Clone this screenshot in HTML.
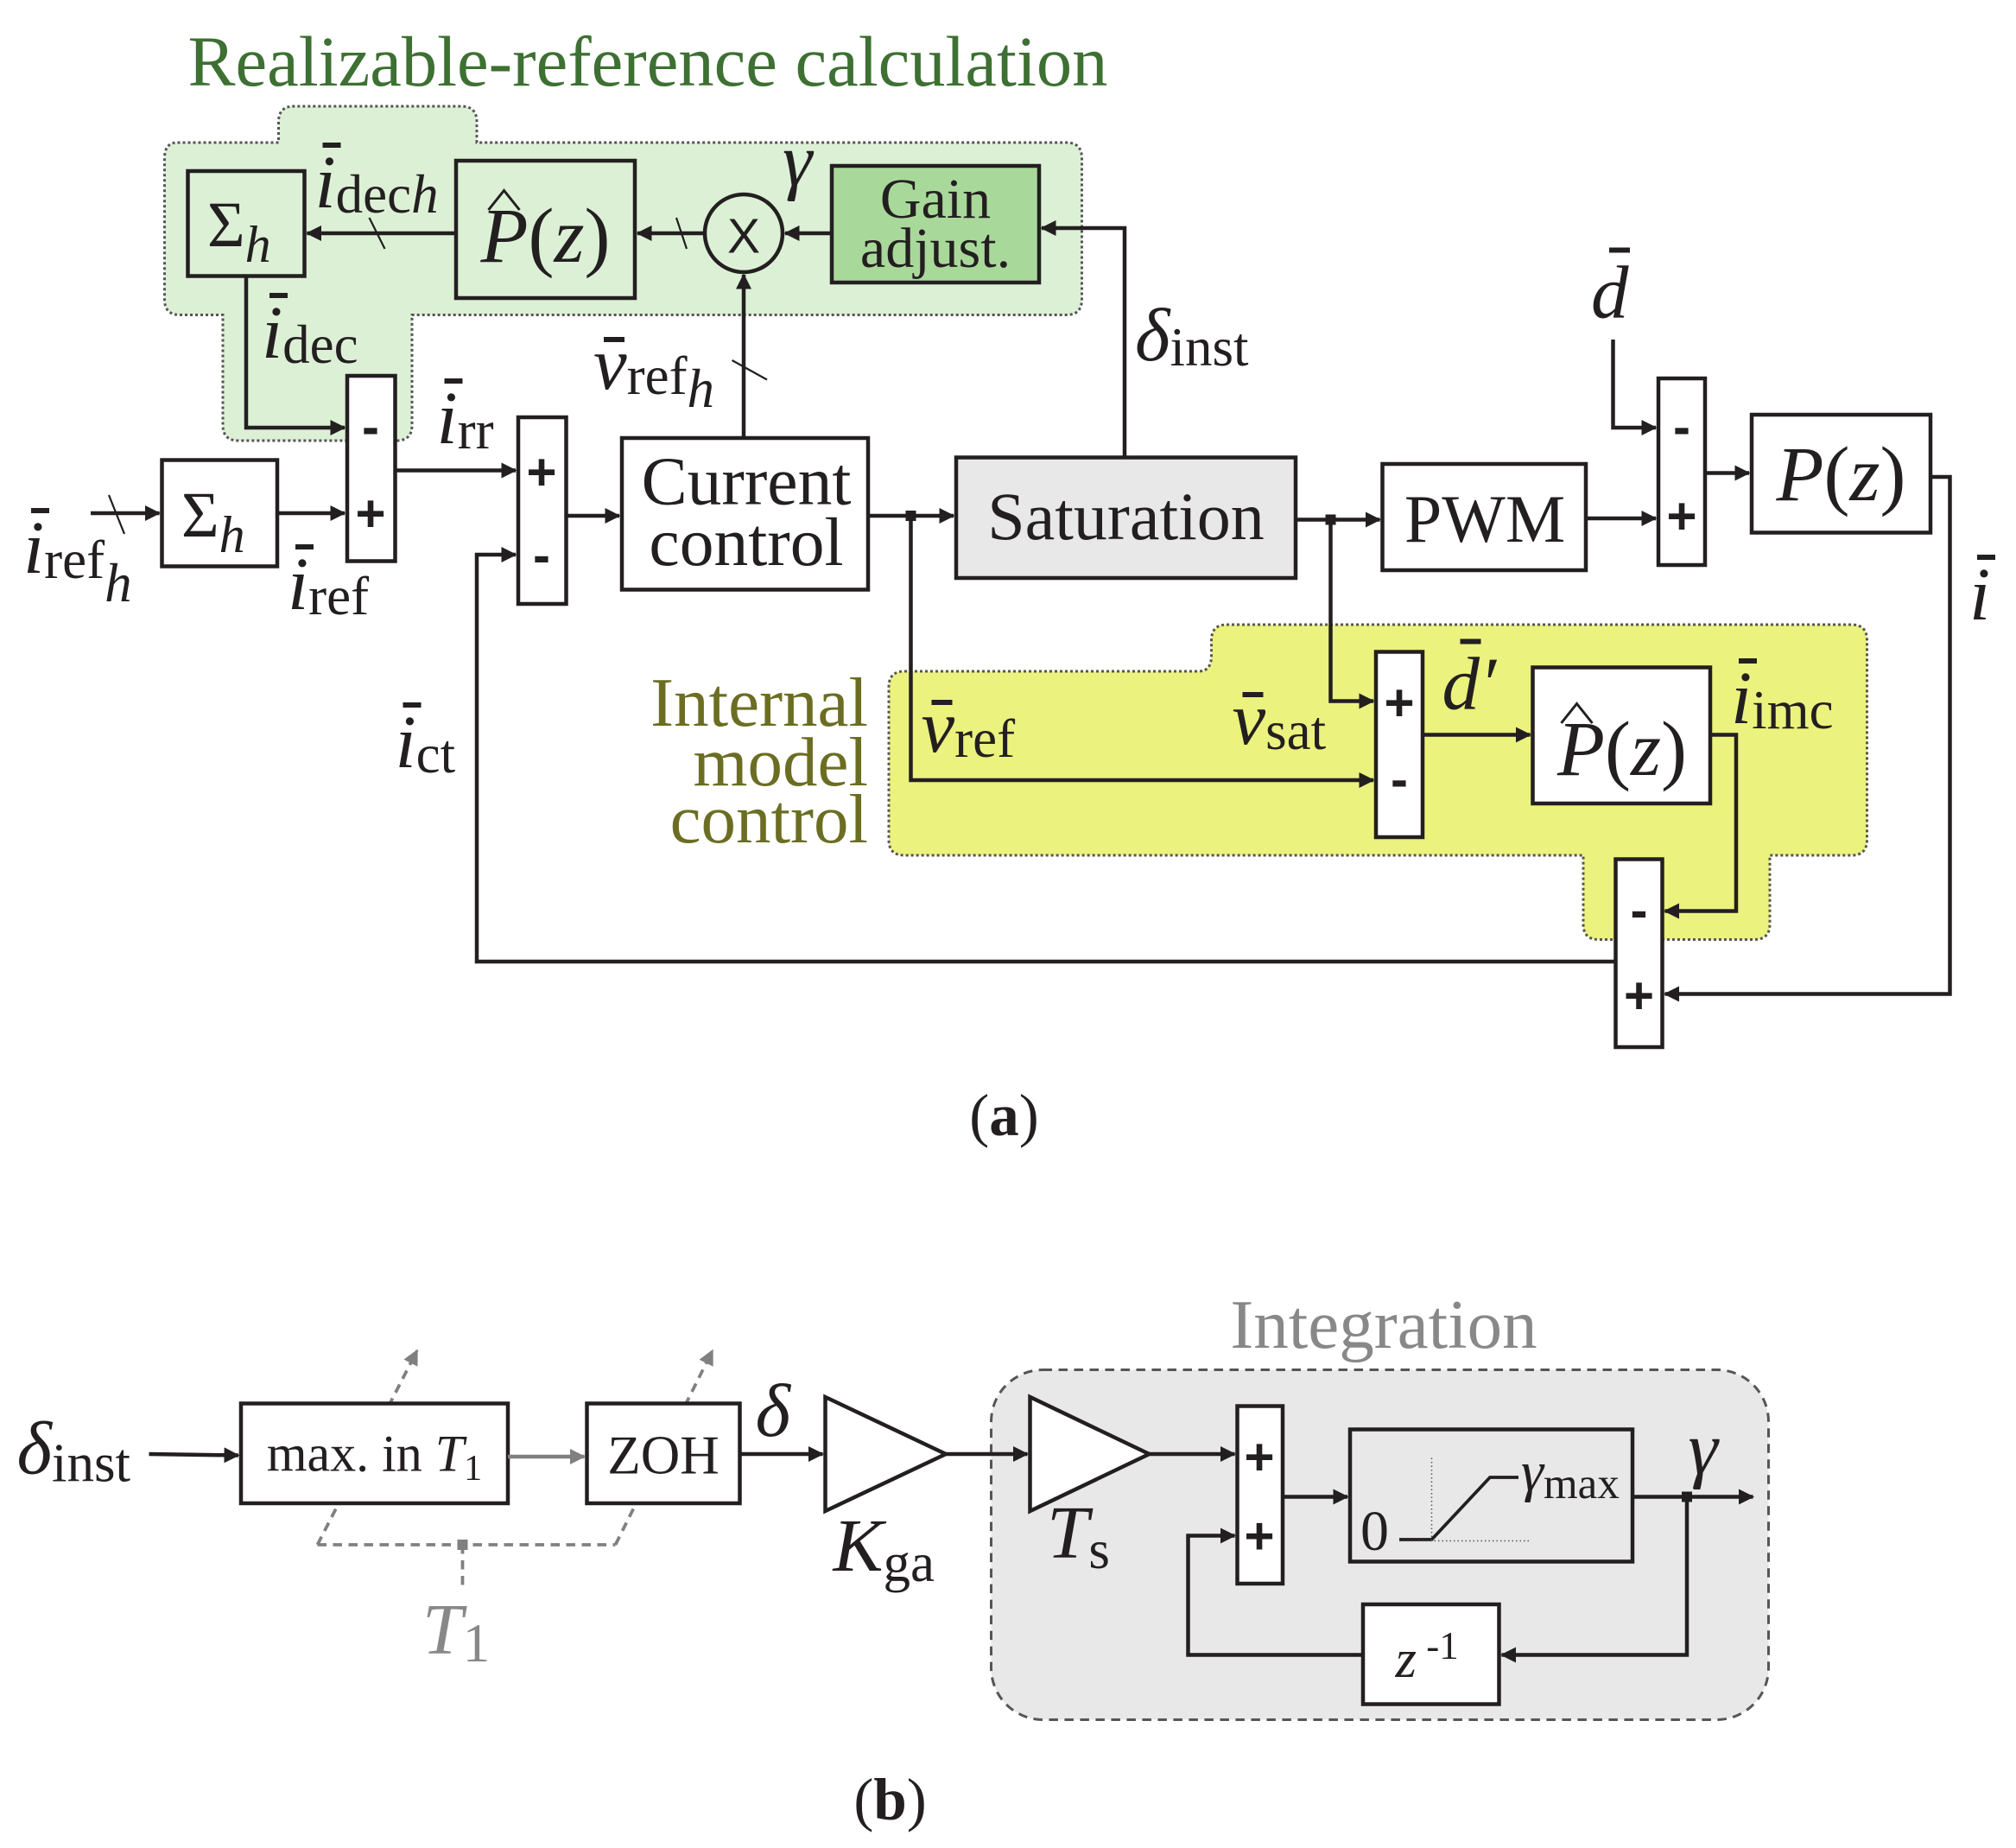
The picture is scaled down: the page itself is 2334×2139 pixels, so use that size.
<!DOCTYPE html>
<html><head><meta charset="utf-8"><style>
html,body{margin:0;padding:0;background:#fff}
svg{display:block}
text{font-family:"Liberation Serif",serif;fill:#231f20}
.it{font-style:italic}
.sg{font-family:"Liberation Sans",sans-serif;font-weight:bold;font-size:40px}
</style></head><body>
<svg width="2334" height="2139" viewBox="0 0 1556 1426" xmlns="http://www.w3.org/2000/svg">
<defs>
<marker id="ar" markerWidth="12" markerHeight="12" refX="11" refY="6" orient="auto" markerUnits="userSpaceOnUse" viewBox="0 0 12 12"><path d="M0,0 L12,6 L0,12 z" fill="#231f20"/></marker>
<marker id="arg" markerWidth="12" markerHeight="12" refX="11" refY="6" orient="auto" markerUnits="userSpaceOnUse" viewBox="0 0 12 12"><path d="M0,0 L12,6 L0,12 z" fill="#808080"/></marker>
</defs>

<text x="145" y="66" font-size="55" style="fill:#3d7032">Realizable-reference calculation</text>

<path d="M137,110 L215,110 L215,94 Q215,82 227,82 L356,82 Q368,82 368,94 L368,110 L823,110 Q835,110 835,122 L835,231 Q835,243 823,243 L318,243 L318,328 Q318,340 306,340 L184,340 Q172,340 172,328 L172,243 L139,243 Q127,243 127,231 L127,122 Q127,110 137,110 Z" fill="#dcf0d6" stroke="#555" stroke-width="2" stroke-dasharray="2,2"/>
<path d="M698,518 L925,518 Q935,518 935,506 L935,494 Q935,482 947,482 L1429,482 Q1441,482 1441,494 L1441,648 Q1441,660 1429,660 L1366,660 L1366,713 Q1366,725 1354,725 L1234,725 Q1222,725 1222,713 L1222,660 L698,660 Q686,660 686,648 L686,530 Q686,518 698,518 Z" fill="#ebf27e" stroke="#555" stroke-width="2" stroke-dasharray="2,2"/>

<g stroke="#231f20" stroke-width="3" fill="none">
<rect x="145" y="132" width="90" height="81"/>
<rect x="352" y="124" width="138" height="106"/>
<circle cx="574" cy="180" r="30"/>
<rect x="642" y="128" width="160" height="90" fill="#a9d99a"/>
<rect x="268" y="290" width="37" height="143" fill="#fff"/>
<rect x="125" y="355" width="89" height="82" fill="#fff"/>
<rect x="400" y="322" width="37" height="144" fill="#fff"/>
<rect x="480" y="338" width="190" height="117" fill="#fff"/>
<rect x="738" y="353" width="262" height="93" fill="#e8e8e8"/>
<rect x="1067" y="358" width="157" height="82" fill="#fff"/>
<rect x="1280" y="292" width="36" height="144" fill="#fff"/>
<rect x="1352" y="320" width="138" height="91" fill="#fff"/>
<rect x="1062" y="503" width="36" height="143" fill="#fff"/>
<rect x="1183" y="515" width="137" height="105" fill="#fff"/>
<rect x="1247" y="663" width="36" height="145" fill="#fff"/>

<line x1="642" y1="180" x2="606" y2="180" marker-end="url(#ar)"/>
<line x1="544" y1="180" x2="492" y2="180" marker-end="url(#ar)"/>
<line x1="352" y1="180" x2="237" y2="180" marker-end="url(#ar)"/>
<polyline points="868,353 868,176 804,176" marker-end="url(#ar)"/>
<polyline points="190,213 190,330 266,330" marker-end="url(#ar)"/>
<line x1="70" y1="396" x2="123" y2="396" marker-end="url(#ar)"/>
<line x1="214" y1="396" x2="266" y2="396" marker-end="url(#ar)"/>
<line x1="305" y1="363" x2="398" y2="363" marker-end="url(#ar)"/>
<polyline points="1247,742 368,742 368,428 398,428" marker-end="url(#ar)"/>
<line x1="437" y1="398" x2="478" y2="398" marker-end="url(#ar)"/>
<line x1="574" y1="338" x2="574" y2="212" marker-end="url(#ar)"/>
<line x1="670" y1="398" x2="736" y2="398" marker-end="url(#ar)"/>
<line x1="1000" y1="401" x2="1065" y2="401" marker-end="url(#ar)"/>
<line x1="1224" y1="400" x2="1278" y2="400" marker-end="url(#ar)"/>
<polyline points="1245,262 1245,330 1278,330" marker-end="url(#ar)"/>
<line x1="1316" y1="365" x2="1350" y2="365" marker-end="url(#ar)"/>
<polyline points="1490,368 1505,368 1505,767 1285,767" marker-end="url(#ar)"/>
<polyline points="703,398 703,602 1060,602" marker-end="url(#ar)"/>
<polyline points="1027,401 1027,541 1060,541" marker-end="url(#ar)"/>
<line x1="1098" y1="567" x2="1181" y2="567" marker-end="url(#ar)"/>
<polyline points="1320,567 1340,567 1340,703 1285,703" marker-end="url(#ar)"/>
<!-- hats -->
<polyline points="377,162 389,147 401,162" stroke-width="2"/>
<polyline points="1205,558 1217,543 1229,558" stroke-width="2"/>
</g>
<g stroke="#231f20" stroke-width="1.5">
<line x1="522" y1="168" x2="530" y2="192"/>
<line x1="285" y1="168" x2="297" y2="192"/>
<line x1="84" y1="382" x2="96" y2="412"/>
<line x1="565" y1="278" x2="592" y2="293"/>
</g>
<rect x="699" y="394" width="8" height="8" fill="#231f20"/>
<rect x="1023" y="397" width="8" height="8" fill="#231f20"/>

<text class="sg" x="286" y="343" text-anchor="middle">-</text>
<text class="sg" x="286" y="410" text-anchor="middle">+</text>
<text class="sg" x="418" y="378" text-anchor="middle">+</text>
<text class="sg" x="418" y="442" text-anchor="middle">-</text>
<text class="sg" x="1298" y="343" text-anchor="middle">-</text>
<text class="sg" x="1298" y="412" text-anchor="middle">+</text>
<text class="sg" x="1080" y="556" text-anchor="middle">+</text>
<text class="sg" x="1080" y="615" text-anchor="middle">-</text>
<text class="sg" x="1265" y="716" text-anchor="middle">-</text>
<text class="sg" x="1265" y="782" text-anchor="middle">+</text>

<text x="160" y="190" font-size="50">Σ<tspan class="it" font-size="40" dy="12">h</tspan></text>
<text x="140" y="414" font-size="50">Σ<tspan class="it" font-size="40" dy="12">h</tspan></text>
<text x="421" y="202" font-size="60" text-anchor="middle"><tspan class="it">P</tspan>(<tspan class="it">z</tspan>)</text>
<text x="1252" y="598" font-size="60" text-anchor="middle"><tspan class="it">P</tspan>(<tspan class="it">z</tspan>)</text>
<text x="1421" y="386" font-size="60" text-anchor="middle"><tspan class="it">P</tspan>(<tspan class="it">z</tspan>)</text>
<text x="574" y="195" font-size="38" text-anchor="middle" style="font-family:'Liberation Sans',sans-serif">X</text>
<text x="722" y="168" font-size="44" text-anchor="middle">Gain</text>
<text x="722" y="206" font-size="44" text-anchor="middle">adjust.</text>
<text x="576" y="389" font-size="53" text-anchor="middle">Current</text>
<text x="576" y="436" font-size="53" text-anchor="middle">control</text>
<text x="869" y="416" font-size="52" text-anchor="middle">Saturation</text>
<text x="1146" y="418" font-size="52" text-anchor="middle">PWM</text>

<g font-size="58">
<text x="243" y="160" class="it">i<tspan font-style="normal" font-size="42" dy="4">dec</tspan><tspan font-size="42">h</tspan></text>
<line x1="249" y1="112" x2="263" y2="112" stroke="#231f20" stroke-width="4"/>
<text x="604" y="143" class="it">γ</text>
<text x="202" y="276" class="it">i<tspan font-style="normal" font-size="42" dy="4">dec</tspan></text>
<line x1="208" y1="228" x2="222" y2="228" stroke="#231f20" stroke-width="4"/>
<text x="337" y="342" class="it">i<tspan font-style="normal" font-size="42" dy="4">rr</tspan></text>
<line x1="343" y1="294" x2="357" y2="294" stroke="#231f20" stroke-width="4"/>
<text x="18" y="442" class="it">i<tspan font-style="normal" font-size="42" dy="4">ref</tspan><tspan font-size="42" dy="18">h</tspan></text>
<line x1="24" y1="394" x2="38" y2="394" stroke="#231f20" stroke-width="4"/>
<text x="222" y="470" class="it">i<tspan font-style="normal" font-size="42" dy="4">ref</tspan></text>
<line x1="228" y1="422" x2="242" y2="422" stroke="#231f20" stroke-width="4"/>
<text x="305" y="592" class="it">i<tspan font-style="normal" font-size="42" dy="4">ct</tspan></text>
<line x1="311" y1="544" x2="325" y2="544" stroke="#231f20" stroke-width="4"/>
<text x="458" y="300" class="it">v<tspan font-style="normal" font-size="42" dy="4">ref</tspan><tspan font-size="42" dy="10">h</tspan></text>
<line x1="466" y1="262" x2="482" y2="262" stroke="#231f20" stroke-width="4"/>
<text x="876" y="278" class="it">δ<tspan font-style="normal" font-size="42" dy="4">inst</tspan></text>
<text x="1228" y="245" class="it">d</text>
<line x1="1242" y1="193" x2="1258" y2="193" stroke="#231f20" stroke-width="4"/>
<text x="1520" y="478" class="it">i</text>
<line x1="1526" y1="430" x2="1540" y2="430" stroke="#231f20" stroke-width="4"/>
<text x="711" y="580" class="it">v<tspan font-style="normal" font-size="42" dy="4">ref</tspan></text>
<line x1="719" y1="542" x2="735" y2="542" stroke="#231f20" stroke-width="4"/>
<text x="951" y="574" class="it">v<tspan font-style="normal" font-size="42" dy="4">sat</tspan></text>
<line x1="959" y1="536" x2="975" y2="536" stroke="#231f20" stroke-width="4"/>
<text x="1113" y="547" class="it">d′</text>
<line x1="1127" y1="495" x2="1143" y2="495" stroke="#231f20" stroke-width="4"/>
<text x="1336" y="558" class="it">i<tspan font-style="normal" font-size="42" dy="4">imc</tspan></text>
<line x1="1342" y1="510" x2="1356" y2="510" stroke="#231f20" stroke-width="4"/>
</g>
<g font-size="54" text-anchor="end">
<text x="670" y="560" style="fill:#6b6e22">Internal</text>
<text x="670" y="606" style="fill:#6b6e22">model</text>
<text x="670" y="650" style="fill:#6b6e22">control</text>
</g>
<text x="775" y="876" font-size="46" text-anchor="middle">(<tspan font-weight="bold">a</tspan>)</text>

<!-- part b -->
<rect x="765" y="1057" width="600" height="270" rx="40" fill="#e8e8e8" stroke="#555" stroke-width="2" stroke-dasharray="7,5"/>
<text x="1068" y="1040" font-size="54" text-anchor="middle" style="fill:#888">Integration</text>
<g stroke="#808080" stroke-width="2.5" fill="none" stroke-dasharray="7,5">
<line x1="245" y1="1192" x2="322" y2="1042" marker-end="url(#arg)"/>
<line x1="475" y1="1192" x2="550" y2="1042" marker-end="url(#arg)"/>
<line x1="245" y1="1192" x2="475" y2="1192"/>
<line x1="357" y1="1192" x2="357" y2="1228"/>
</g>
<rect x="353" y="1188" width="8" height="8" fill="#808080"/>
<text x="326" y="1276" font-size="56" class="it" style="fill:#888">T<tspan font-style="normal" font-size="42" dy="6">1</tspan></text>
<g stroke="#231f20" stroke-width="3" fill="none">
<rect x="186" y="1083" width="206" height="77" fill="#fff"/>
<rect x="453" y="1083" width="118" height="77" fill="#fff"/>
<line x1="115" y1="1122" x2="184" y2="1123" marker-end="url(#ar)"/>
<line x1="571" y1="1122" x2="635" y2="1122" marker-end="url(#ar)"/>
<polygon points="637,1078 637,1166 730,1122" fill="#fff"/>
<line x1="730" y1="1122" x2="793" y2="1122" marker-end="url(#ar)"/>
<polygon points="795,1078 795,1166 887,1122" fill="#fff"/>
<line x1="887" y1="1122" x2="953" y2="1122" marker-end="url(#ar)"/>
<rect x="955" y="1085" width="35" height="137" fill="#fff"/>
<line x1="990" y1="1155" x2="1040" y2="1155" marker-end="url(#ar)"/>
<rect x="1042" y="1103" width="218" height="102"/>
<line x1="1260" y1="1155" x2="1353" y2="1155" marker-end="url(#ar)"/>
<polyline points="1302,1155 1302,1277 1159,1277" marker-end="url(#ar)"/>
<rect x="1052" y="1238" width="105" height="77" fill="#fff"/>
<polyline points="1052,1277 917,1277 917,1185 953,1185" marker-end="url(#ar)"/>
<polyline points="1080,1188 1105,1188 1150,1140 1172,1140" stroke-width="2.5"/>
</g>
<line x1="392" y1="1124" x2="451" y2="1124" stroke="#808080" stroke-width="3" marker-end="url(#arg)"/>
<g stroke="#555" stroke-width="1" stroke-dasharray="1,2">
<line x1="1105" y1="1125" x2="1105" y2="1190"/>
<line x1="1080" y1="1189" x2="1180" y2="1189"/>
</g>
<rect x="1298" y="1151" width="8" height="8" fill="#231f20"/>
<text class="sg" x="972" y="1138" text-anchor="middle">+</text>
<text class="sg" x="972" y="1199" text-anchor="middle">+</text>
<text x="289" y="1135" font-size="40" text-anchor="middle">max. in <tspan class="it">T</tspan><tspan font-size="28" dy="7">1</tspan></text>
<text x="512" y="1137" font-size="42" text-anchor="middle">ZOH</text>
<text x="1050" y="1196" font-size="44">0</text>
<text x="1174" y="1150" font-size="44" class="it">γ<tspan font-style="normal" font-size="34" dy="6">max</tspan></text>
<text x="1077" y="1294" font-size="42"><tspan class="it">z</tspan><tspan font-size="30" dy="-14"> -1</tspan></text>
<g font-size="58">
<text x="13" y="1137" class="it">δ<tspan font-style="normal" font-size="42" dy="6">inst</tspan></text>
<text x="583" y="1108" class="it">δ</text>
<text x="643" y="1212" class="it">K<tspan font-style="normal" font-size="42" dy="8">ga</tspan></text>
<text x="808" y="1202" class="it">T<tspan font-style="normal" font-size="42" dy="8">s</tspan></text>
<text x="1303" y="1137" class="it">γ</text>
</g>
<text x="687" y="1404" font-size="46" text-anchor="middle">(<tspan font-weight="bold">b</tspan>)</text>
</svg>
</body></html>
